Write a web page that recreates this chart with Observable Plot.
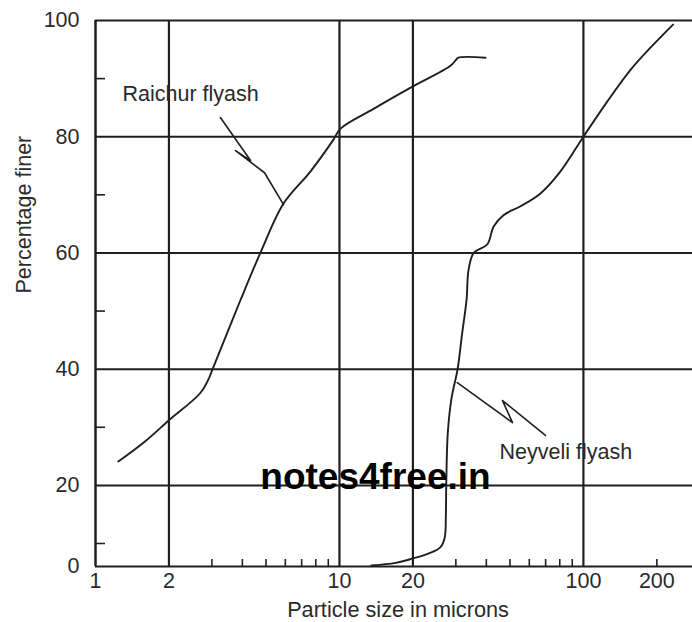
<!DOCTYPE html>
<html><head><meta charset="utf-8">
<script src="https://cdn.jsdelivr.net/npm/d3@7"></script>
<script src="https://cdn.jsdelivr.net/npm/@observablehq/plot@0.6"></script>
<style>body{margin:0;background:#fff}#chart{width:692px;height:622px}</style>
</head><body><div id="chart"></div>
<script>
// Raichur flyash grain-size curve
const raichurSize  = [1.24, 1.6, 2.0, 2.69, 2.9, 3.02, 3.47, 3.93, 4.74, 5.9, 7.6, 9.45, 10.1, 13.8, 19.5, 28.5, 30.0, 30.7, 39.7];
const raichurFiner = [24.1, 27.6, 31.2, 35.9, 38.2, 40.0, 46.3, 51.9, 60.0, 68.5, 74.0, 79.5, 81.4, 84.8, 88.4, 92.2, 93.2, 93.6, 93.6];
// Neyveli flyash grain-size curve
const neyveliSize  = [13.5, 17, 20, 23, 25.9, 27.0, 27.3, 27.4, 27.8, 28.8, 30.5, 31.8, 33.2, 33.8, 35.5, 40.4, 42.8, 47, 55, 66.5, 80.4, 100, 125, 156, 190, 233];
const neyveliFiner = [0.5, 1.6, 3.5, 5.5, 8.3, 11, 15, 20, 29, 35, 40, 46, 52, 57, 60, 61.5, 64.5, 66.5, 68, 70.2, 74, 80, 86, 91.5, 95.5, 99.3];
// axes
const xTicks = [1, 2, 10, 20, 100, 200];
const yTicks = [0, 20, 40, 60, 80, 100];
const gridX = [2, 10, 20, 100];
const gridY = [20, 40, 60, 80, 100];
const minorX = [3, 4, 5, 6, 7, 8, 9, 30, 40, 50, 60, 70, 80, 90, 200];
const minorY = [10, 30, 50, 70, 90];
// annotations
const labelNames = ["Raichur flyash", "Neyveli flyash"];
const labelSize  = [1.29, 45.3];
const labelFiner = [87.4, 25.7];
const raichurLeaderSize  = [3.25, 4.32, 3.75, 4.93, 5.90];
const raichurLeaderFiner = [83.3, 75.9, 77.6, 73.8, 68.3];
const neyveliLeaderSize  = [30.4, 51.2, 46.6, 69.9];
const neyveliLeaderFiner = [37.7, 30.8, 34.6, 28.6];
const watermark = "notes4free.in";
const watermarkSize = 14.05, watermarkFiner = 21.4;
const xLabel = "Particle size in microns";
const yLabel = "Percentage finer";

const ink = "#1f1f1f";
const zip = (xs, ys) => xs.map((x, i) => ({x, y: ys[i]}));

const chart = Plot.plot({
  width: 692, height: 622,
  marginLeft: 95, marginRight: 0, marginTop: 20, marginBottom: 56,
  style: {fontFamily: "'Liberation Sans', Arial, sans-serif", fontSize: "21.5px", color: "#2a2a2a", background: "#fff"},
  x: {type: "log", domain: [1, 280], ticks: xTicks, tickFormat: d => String(d), tickSize: 0, tickPadding: 6, label: null},
  y: {type: "linear", domain: [0, 10, 100], range: [566, 543, 20], ticks: yTicks, tickSize: 0, tickPadding: 16, label: null},
  marks: [
    Plot.ruleY(gridY, {stroke: ink, strokeWidth: 2}),
    Plot.ruleX(gridX, {stroke: ink, strokeWidth: 2.2}),
    Plot.ruleX([1], {stroke: ink, strokeWidth: 2.5}),
    Plot.ruleY([0], {stroke: ink, strokeWidth: 2}),
    Plot.ruleX(minorX, {stroke: ink, strokeWidth: 1.6, insetTop: 539}),
    Plot.ruleY(minorY, {stroke: ink, strokeWidth: 1.6, insetRight: 587}),
    Plot.line(zip(raichurSize, raichurFiner), {x: "x", y: "y", stroke: ink, strokeWidth: 1.9, curve: "catmull-rom"}),
    Plot.line(zip(neyveliSize, neyveliFiner), {x: "x", y: "y", stroke: ink, strokeWidth: 1.9, curve: "catmull-rom"}),
    Plot.line(zip(raichurLeaderSize, raichurLeaderFiner), {x: "x", y: "y", stroke: ink, strokeWidth: 1.6}),
    Plot.line(zip(neyveliLeaderSize, neyveliLeaderFiner), {x: "x", y: "y", stroke: ink, strokeWidth: 1.6}),
    Plot.text(labelNames.map((t, i) => ({t, x: labelSize[i], y: labelFiner[i]})), {x: "x", y: "y", text: "t", textAnchor: "start", fontSize: 21.5, fill: "#2a2a2a"}),
    Plot.text([watermark], {x: () => watermarkSize, y: () => watermarkFiner, text: d => d, fontSize: 37, fontWeight: "bold", fill: "#000"}),
    Plot.text([yLabel], {frameAnchor: "left", text: d => d, rotate: -90, dx: -71, fontSize: 21.5, fill: "#2a2a2a"}),
    Plot.text([xLabel], {frameAnchor: "bottom", text: d => d, dy: 50, dx: 4, fontSize: 21.7, fill: "#2a2a2a"})
  ]
});
document.getElementById("chart").appendChild(chart);
</script>
</body></html>
